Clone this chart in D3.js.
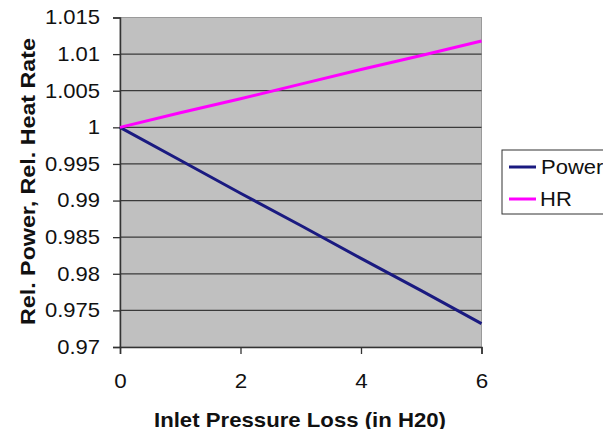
<!DOCTYPE html>
<html>
<head>
<meta charset="utf-8">
<script src="https://cdn.jsdelivr.net/npm/d3@7"></script>
<style>
  html, body { margin: 0; padding: 0; background: #fff; }
  svg { display: block; }
  text { font-family: "Liberation Sans", Arial, sans-serif; fill: #111; }
</style>
</head>
<body>
<svg id="chart" width="603" height="429"></svg>
<script>
// Data
const xValues = [0, 1, 2, 3, 4, 5, 6];
const powerValues = [1.0, 0.9955, 0.991, 0.9866, 0.9821, 0.9777, 0.9732];
const hrValues = [1.0, 1.002, 1.0039, 1.0059, 1.0079, 1.0098, 1.0118];
const seriesNames = ["Power", "HR"];
const yTicks = [0.97, 0.975, 0.98, 0.985, 0.99, 0.995, 1, 1.005, 1.01, 1.015];
const xTicks = [0, 2, 4, 6];
const xTitle = "Inlet Pressure Loss (in H20)";
const yTitle = "Rel. Power, Rel. Heat Rate";

const svg = d3.select("#chart");
const L = 120, R = 481.5, T = 17.5, B = 347;

const x = d3.scaleLinear().domain([0, 6]).range([L, R]);
const y = d3.scaleLinear().domain([0.97, 1.015]).range([B, T]);

// plot background
svg.append("rect")
  .attr("x", L).attr("y", T).attr("width", R - L).attr("height", B - T)
  .attr("fill", "#c0c0c0").attr("stroke", "#9a9a9a").attr("stroke-width", 1);

// gridlines
svg.append("g").selectAll("line")
  .data(yTicks.filter(v => v > 0.97 && v < 1.015))
  .join("line")
  .attr("x1", L).attr("x2", R)
  .attr("y1", d => y(d)).attr("y2", d => y(d))
  .attr("stroke", "#3a3a3a").attr("stroke-width", 1.3);

// Y axis
const yAxis = d3.axisLeft(y).tickValues(yTicks).tickSize(7).tickPadding(13)
  .tickFormat(d => String(+d.toFixed(3)));
const gy = svg.append("g").attr("transform", `translate(${L},0)`).call(yAxis);
gy.select(".domain").attr("stroke", "#333").attr("stroke-width", 1.5);
gy.selectAll(".tick line").attr("stroke", "#333").attr("stroke-width", 1.3);
gy.selectAll(".tick text").attr("font-size", 20)
  .attr("font-family", "Liberation Sans, Arial, sans-serif").attr("fill", "#111")
  .attr("x", 0).attr("transform", "translate(-20,0) scale(1.1,1)");

// X axis
const xAxis = d3.axisBottom(x).tickValues(xTicks).tickSize(7).tickPadding(20)
  .tickFormat(d3.format("d"));
const gx = svg.append("g").attr("transform", `translate(0,${B})`).call(xAxis);
gx.select(".domain").attr("stroke", "#333").attr("stroke-width", 1.5);
gx.selectAll(".tick line").attr("stroke", "#333").attr("stroke-width", 1.3);
gx.selectAll(".tick text").attr("font-size", 20)
  .attr("font-family", "Liberation Sans, Arial, sans-serif").attr("fill", "#111")
  .attr("transform", "scale(1.12,1)");

// lines
const line = d3.line().x((d, i) => x(xValues[i])).y(d => y(d));
const colors = ["#1a1a80", "#ff00ff"];
[powerValues, hrValues].forEach((vals, k) => {
  svg.append("path").datum(vals)
    .attr("d", line).attr("fill", "none")
    .attr("stroke", colors[k]).attr("stroke-width", 3);
});

// titles
svg.append("text")
  .attr("x", 300).attr("y", 426.5)
  .attr("text-anchor", "middle")
  .attr("font-size", 21).attr("font-weight", "bold")
  .attr("textLength", 292).attr("lengthAdjust", "spacingAndGlyphs")
  .text(xTitle);

svg.append("text")
  .attr("transform", "translate(35,181.5) rotate(-90)")
  .attr("text-anchor", "middle")
  .attr("font-size", 21).attr("font-weight", "bold")
  .attr("textLength", 287).attr("lengthAdjust", "spacingAndGlyphs")
  .text(yTitle);

// legend
const lg = svg.append("g");
lg.append("rect")
  .attr("x", 502).attr("y", 150).attr("width", 110).attr("height", 64)
  .attr("fill", "#fff").attr("stroke", "#333").attr("stroke-width", 1);
seriesNames.forEach((name, i) => {
  const yy = 167 + i * 32;
  lg.append("line")
    .attr("x1", 509).attr("x2", 536).attr("y1", yy).attr("y2", yy)
    .attr("stroke", colors[i]).attr("stroke-width", 3);
  lg.append("text")
    .attr("x", 0).attr("y", 0)
    .attr("transform", `translate(${i === 0 ? 541 : 540},${yy + 7}) scale(1.1,1)`)
    .attr("font-size", 20)
    .text(name);
});
</script>
</body>
</html>
